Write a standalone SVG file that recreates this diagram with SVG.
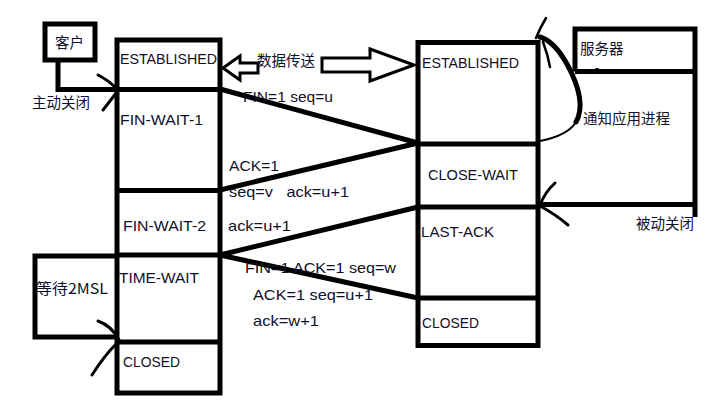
<svg xmlns="http://www.w3.org/2000/svg" width="725" height="406" viewBox="0 0 725 406">
<style>
.box{fill:none;stroke:#000;stroke-width:5}
.ln{fill:none;stroke:#000;stroke-width:5;stroke-linecap:butt}
.thin{fill:none;stroke:#000;stroke-width:3;stroke-linecap:round}
.t{font-family:"Liberation Sans",Arial,sans-serif;font-size:15px;fill:#10102a}
.c{font-family:"Noto Sans CJK SC","Liberation Sans",sans-serif;font-size:14.5px;fill:#10102a}
</style>
<rect width="725" height="406" fill="#fff"/>

<g id="client">
  <rect class="box" x="45" y="24" width="50" height="36"/>
  <text class="c" x="55" y="48">客户</text>
</g>

<g id="left-stack">
  <rect class="box" x="117" y="40" width="103" height="353"/>
  <line class="ln" x1="117" y1="89.5" x2="220" y2="89.5"/>
  <line class="ln" x1="117" y1="190.5" x2="220" y2="190.5"/>
  <line class="ln" x1="117" y1="255" x2="220" y2="255"/>
  <line class="ln" x1="117" y1="342" x2="220" y2="342"/>
  <text class="t" x="120" y="64" textLength="97" lengthAdjust="spacingAndGlyphs">ESTABLISHED</text>
  <text class="t" x="120" y="125" textLength="83" lengthAdjust="spacingAndGlyphs">FIN-WAIT-1</text>
  <text class="t" x="123" y="231" textLength="83" lengthAdjust="spacingAndGlyphs">FIN-WAIT-2</text>
  <text class="t" x="119" y="283" textLength="80" lengthAdjust="spacingAndGlyphs">TIME-WAIT</text>
  <text class="t" x="123" y="367" textLength="57" lengthAdjust="spacingAndGlyphs">CLOSED</text>
</g>

<g id="wait-2msl">
  <path class="box" d="M117,256 H35 V337 H117"/>
  <text class="c" x="36" y="294" textLength="72" lengthAdjust="spacingAndGlyphs">等待2MSL</text>
</g>

<g id="right-stack">
  <rect class="box" x="418" y="42.5" width="120" height="303"/>
  <line class="ln" x1="418" y1="144" x2="538" y2="144"/>
  <line class="ln" x1="418" y1="207" x2="538" y2="207"/>
  <line class="ln" x1="418" y1="298" x2="538" y2="298"/>
  <text class="t" x="422" y="68" textLength="97" lengthAdjust="spacingAndGlyphs">ESTABLISHED</text>
  <text class="t" x="428" y="180" textLength="90" lengthAdjust="spacingAndGlyphs">CLOSE-WAIT</text>
  <text class="t" x="421" y="237" textLength="73" lengthAdjust="spacingAndGlyphs">LAST-ACK</text>
  <text class="t" x="422" y="328" textLength="57" lengthAdjust="spacingAndGlyphs">CLOSED</text>
</g>

<g id="server">
  <path class="box" d="M575,71.5 V29 H695 V217"/>
  <line class="ln" x1="575" y1="71.5" x2="695" y2="71.5"/>
  <circle cx="597" cy="71" r="3" fill="#000"/>
  <text class="c" x="580" y="54">服务器</text>
  <text class="c" x="583" y="124">通知应用进程</text>
  <text class="c" x="636" y="229">被动关闭</text>
</g>

<g id="connectors">
  <!-- client active close -->
  <path class="ln" d="M58,60 V89.5 H117"/>
  <path class="thin" d="M98,75 Q108,80 116,88"/>
  <path class="thin" d="M103,110 L117,92"/>
  <text class="c" x="32" y="108">主动关闭</text>

  <!-- data transfer double hollow arrow -->
  <polygon class="thin" points="223,68 240,56 240,63 258,63 258,73 240,73 240,80"/>
  <polygon class="thin" points="322,58 370,58 370,49 414,65 370,81 370,72 322,72"/>
  <text class="c" x="257" y="66">数据传送</text>

  <!-- handshake lines -->
  <line class="ln" x1="220" y1="89" x2="418" y2="143"/>
  <line class="ln" x1="220" y1="190" x2="418" y2="143"/>
  <line class="ln" x1="220" y1="255" x2="418" y2="207"/>
  <line class="ln" x1="220" y1="255" x2="418" y2="298"/>

  <!-- notify application curved arrow -->
  <path d="M540,141 C555,138 570,132 576,122" fill="none" stroke="#000" stroke-width="2"/>
  <path d="M576,122 C584,108 580,88 567,64 C558,48 550,40 540,37" fill="none" stroke="#000" stroke-width="5" stroke-linecap="round"/>
  <path d="M543,42 Q548,55 550,67" fill="none" stroke="#000" stroke-width="2.5" stroke-linecap="round"/>
  <path d="M546,18 Q540,28 536,38" fill="none" stroke="#000" stroke-width="2.5" stroke-linecap="round"/>

  <!-- passive close arrow -->
  <line class="ln" x1="540" y1="204.5" x2="695" y2="204.5"/>
  <path class="thin" d="M555,183 Q545,192 540,205"/>
  <path class="thin" d="M540,206 Q555,214 568,225"/>

  <!-- 2MSL arrow -->
  <path class="thin" d="M98,321 Q112,326 119,340"/>
  <path class="thin" d="M92,375 Q104,356 117,343"/>

  <text class="t" x="243" y="102" textLength="90" lengthAdjust="spacingAndGlyphs">FIN=1 seq=u</text>
  <text class="t" x="229" y="171" textLength="50" lengthAdjust="spacingAndGlyphs">ACK=1</text>
  <text class="t" x="229" y="197" xml:space="preserve" textLength="120" lengthAdjust="spacingAndGlyphs">seq=v   ack=u+1</text>
  <text class="t" x="228" y="231" textLength="63" lengthAdjust="spacingAndGlyphs">ack=u+1</text>
  <text class="t" x="245" y="273" textLength="151" lengthAdjust="spacingAndGlyphs">FIN=1 ACK=1 seq=w</text>
  <text class="t" x="253" y="300" textLength="120" lengthAdjust="spacingAndGlyphs">ACK=1 seq=u+1</text>
  <text class="t" x="253" y="326" textLength="66" lengthAdjust="spacingAndGlyphs">ack=w+1</text>
</g>
</svg>
